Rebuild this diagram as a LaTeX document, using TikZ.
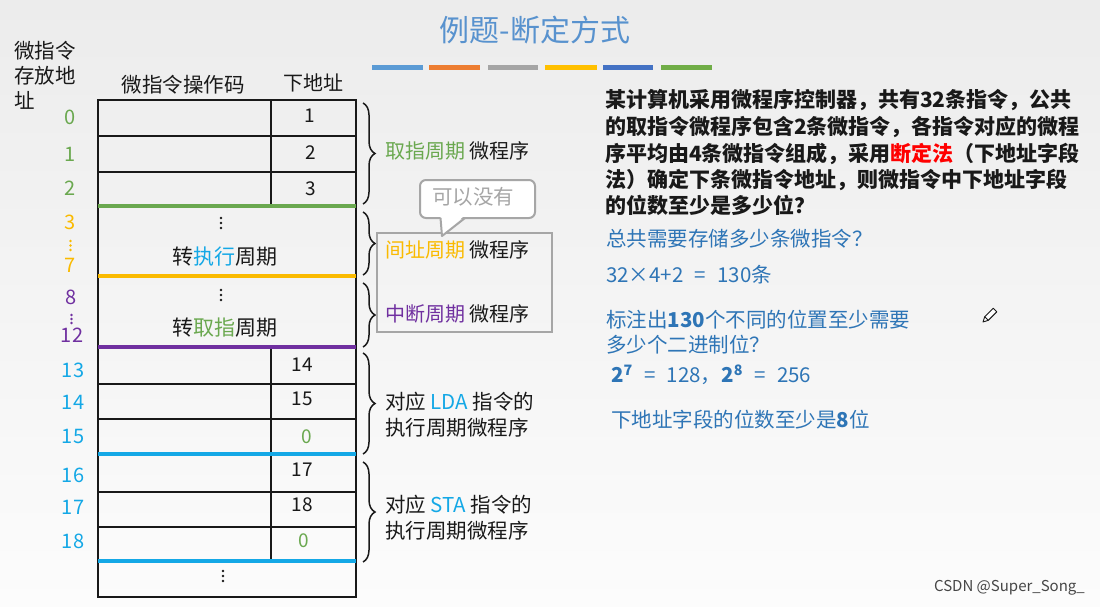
\documentclass[tikz,border=0pt]{standalone}
\usepackage{fontspec}
\setmainfont{Noto Sans CJK SC}
\usetikzlibrary{decorations.pathreplacing}
\definecolor{cgreen}{RGB}{106,168,79}
\definecolor{cgold}{RGB}{250,186,0}
\definecolor{cpurple}{RGB}{112,48,160}
\definecolor{cblue}{RGB}{20,168,230}
\definecolor{tblue}{RGB}{46,117,182}
\definecolor{titleblue}{RGB}{88,146,206}
\definecolor{cgrey}{RGB}{166,166,166}
\definecolor{ink}{RGB}{25,25,25}
\definecolor{barA}{RGB}{91,155,213}
\definecolor{barB}{RGB}{237,125,49}
\definecolor{barC}{RGB}{165,165,165}
\definecolor{barD}{RGB}{255,192,0}
\definecolor{barE}{RGB}{68,114,196}
\definecolor{barF}{RGB}{112,173,71}
\newcommand{\fsz}[1]{\fontsize{#1}{#1}\selectfont}
\newcommand{\eqgap}{\hspace{0.55em}}
\begin{document}
\begin{tikzpicture}[x=1pt,y=-1pt,
  txt/.style={inner sep=0pt,text=ink,font=\fsz{20}},
  para/.style={inner sep=0pt,anchor=west,text=ink,font=\fsz{21}\bfseries},
  ans/.style={inner sep=0pt,anchor=west,text=tblue,font=\fsz{20.5}},
  num/.style={inner sep=0pt,font=\fsz{20}},
  cell/.style={inner sep=0pt,text=ink,font=\fsz{19}},
  grid/.style={draw=ink,line width=2.3pt},
  sep/.style={line width=4.5pt},
  brc/.style={decorate,decoration={brace,amplitude=12pt},line width=1.5pt,draw=ink},
  bar/.style={line width=5pt},
]
\useasboundingbox (0,0) rectangle (1100,607);
\shade[top color={rgb,255:red,236;green,236;blue,236}, bottom color={rgb,255:red,252;green,252;blue,252}] (0,0) rectangle (1100,607);

% title and bars
\node[inner sep=0pt,text=titleblue,font=\fsz{30}] (title) at (535,30) {例题-断定方式};
\draw[bar,barA] (372,68) -- (423,68);
\draw[bar,barB] (429,68) -- (480,68);
\draw[bar,barC] (488,68) -- (538,68);
\draw[bar,barD] (545,68) -- (597,68);
\draw[bar,barE] (603,68) -- (653,68);
\draw[bar,barF] (661,68) -- (712,68);

% left header
\node[txt,font=\fsz{20.5},anchor=west] (hA) at (14,51) {微指令};
\node[txt,font=\fsz{20.5},anchor=west] (hB) at (14,76) {存放地};
\node[txt,font=\fsz{20.5},anchor=west] (hC) at (14,100) {址};
\node[txt,font=\fsz{20.5}] (hOp) at (183,85) {微指令操作码};
\node[txt,font=\fsz{20}] (hNx) at (313,83) {下地址};

% table
\draw[grid] (98,100) rectangle (356,597);
\draw[grid] (98,136) -- (356,136);
\draw[grid] (98,172) -- (356,172);
\draw[grid] (271,100) -- (271,206);
\draw[grid] (98,384) -- (356,384);
\draw[grid] (98,419) -- (356,419);
\draw[grid] (98,492) -- (356,492);
\draw[grid] (98,527) -- (356,527);
\draw[grid] (271,347) -- (271,561);
\draw[sep,cgreen] (98,206) -- (356,206);
\draw[sep,cgold] (98,276) -- (356,276);
\draw[sep,cpurple] (98,347) -- (356,347);
\draw[sep,cblue] (98,454) -- (356,454);
\draw[sep,cblue] (98,561) -- (356,561);

% cell contents
\node[cell] (c0) at (310,116) {1};
\node[cell] (c1) at (311,153) {2};
\node[cell] (c2) at (311,189) {3};
\node[cell] (c13) at (302,365) {14};
\node[cell] (c14) at (302,399) {15};
\node[cell,text=cgreen] (c15) at (307,437) {0};
\node[cell] (c16) at (302,470) {17};
\node[cell] (c17) at (302,505) {18};
\node[cell,text=cgreen] (c18) at (304,541) {0};
\foreach \y in {218,223,228} \fill[ink] (221,\y) circle (1.3);
\foreach \y in {290,295,300} \fill[ink] (221,\y) circle (1.3);
\foreach \y in {571,576,581} \fill[ink] (223,\y) circle (1.3);
\node[txt,font=\fsz{21}] (j1) at (225,257) {转\textcolor{cblue}{执行}周期};
\node[txt,font=\fsz{21}] (j2) at (225,328) {转\textcolor{cgreen}{取指}周期};

% address numbers
\node[num,text=cgreen] (a0) at (70,117) {0};
\node[num,text=cgreen] (a1) at (70,154) {1};
\node[num,text=cgreen] (a2) at (70,188) {2};
\node[num,text=cgold] (a3) at (70,222) {3};
\foreach \y in {241,245.5,250} \fill[cgold] (70.5,\y) circle (1.3);
\node[num,text=cgold] (a7) at (70,265) {7};
\node[num,text=cpurple] (a8) at (71,297) {8};
\foreach \y in {315,319,323} \fill[cpurple] (71.5,\y) circle (1.3);
\node[num,text=cpurple] (a12) at (72,335) {12};
\node[num,text=cblue] (a13) at (73,370) {13};
\node[num,text=cblue] (a14) at (73,402) {14};
\node[num,text=cblue] (a15) at (73,436) {15};
\node[num,text=cblue] (a16) at (73,475) {16};
\node[num,text=cblue] (a17) at (73,507) {17};
\node[num,text=cblue] (a18) at (73,541) {18};

% braces
\draw[brc] (363,103) -- (363,204);
\draw[brc] (363,212) -- (363,275);
\draw[brc] (363,283) -- (363,347);
\draw[brc] (363,353) -- (363,454);
\draw[brc] (363,462) -- (363,562);

% grey box and callout
\draw[cgrey,line width=2pt] (377,233) rectangle (552,332);
\draw[cgrey,line width=2pt,fill=white,rounded corners=6pt] (420,180) rectangle (535,218);
\fill[white] (440.5,215) -- (442,236) -- (465,215) -- cycle;
\draw[cgrey,line width=2pt,line join=round] (440.5,218) -- (442,236) -- (465,218);
\node[txt,text=cgrey,font=\fsz{20.5}] (cb) at (473,197) {可以没有};

% brace labels
\node[txt,anchor=west,font=\fsz{20}] (l1) at (385,151) {\textcolor{cgreen}{取指周期} 微程序};
\node[txt,anchor=west,font=\fsz{20}] (l2) at (385,250) {\textcolor{cgold}{间址周期} 微程序};
\node[txt,anchor=west,font=\fsz{20}] (l3) at (385,314) {\textcolor{cpurple}{中断周期} 微程序};
\node[txt,anchor=west,font=\fsz{20.5}] (l4a) at (385,402) {对应 \textcolor{cblue}{LDA} 指令的};
\node[txt,anchor=west,font=\fsz{20.5}] (l4b) at (385,428) {执行周期微程序};
\node[txt,anchor=west,font=\fsz{20.5}] (l5a) at (385,505) {对应 \textcolor{cblue}{STA} 指令的};
\node[txt,anchor=west,font=\fsz{20.5}] (l5b) at (385,531) {执行周期微程序};

% question paragraph
\node[para] (p1) at (605,100.5) {某计算机采用微程序控制器，共有32条指令，公共};
\node[para] (p2) at (605,127) {的取指令微程序包含2条微指令，各指令对应的微程};
\node[para] (p3) at (605,153.5) {序平均由4条微指令组成，采用\textcolor{red}{断定法}（下地址字段};
\node[para] (p4) at (605,180) {法）确定下条微指令地址，则微指令中下地址字段};
\node[para] (p5) at (605,205.5) {的位数至少是多少位？};

% answer
\node[ans] (q1) at (606,239) {总共需要存储多少条微指令？};
\node[ans] (q2) at (606,275) {32×4+2\eqgap=\eqgap130条};
\node[ans] (q3) at (606,320) {标注出\textbf{130}个不同的位置至少需要};
\node[ans] (q4) at (606,345) {多少个二进制位？};
\node[ans] (q5) at (611,375) {\textbf{2\textsuperscript{7}}\eqgap=\eqgap128，\textbf{2\textsuperscript{8}}\eqgap=\eqgap256};
\node[ans] (q6) at (611,420) {下地址字段的位数至少是\textbf{8}位};

% pencil cursor
\draw[ink,line width=0.9pt,line join=round,fill=white] (983,322) -- (984.7,316.7) -- (993.2,308.2) -- (996.8,311.8) -- (988.3,320.3) -- cycle;
\draw[ink,line width=0.9pt] (984.7,316.7) -- (988.3,320.3);

% watermark
\node[inner sep=0pt,anchor=east,text={rgb,255:red,70;green,70;blue,70},font=\fsz{15}] (wm) at (1085,588) {CSDN @Super\_Song\_};
\end{tikzpicture}
\end{document}
